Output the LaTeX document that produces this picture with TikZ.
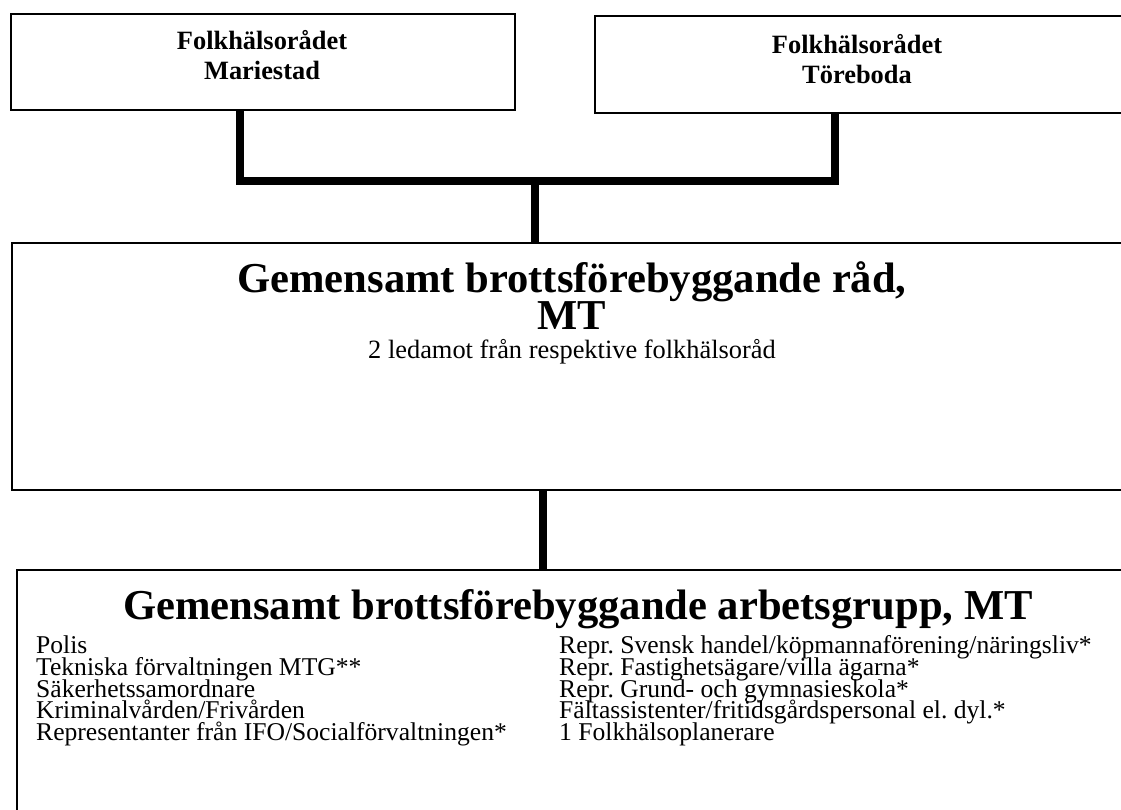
\documentclass[tikz,border=0pt]{standalone}
\usepackage{fontspec}
\setmainfont{Liberation Serif}
\frenchspacing
\begin{document}
\begin{tikzpicture}[x=1pt,y=-1pt,
  box/.style={draw=black, line width=1.6pt, fill=white, anchor=north west, inner sep=0pt},
  conn/.style={line width=8pt, line join=miter},
  smallbold/.style={font=\fontsize{26.4}{30}\selectfont\bfseries, anchor=base, inner sep=0pt},
  bigtitle/.style={font=\fontsize{42.6}{48}\selectfont\bfseries, anchor=base, inner sep=0pt},
  bodyl/.style={font=\fontsize{25.6}{22}\selectfont, anchor=base west, inner sep=0pt, text height=16pt, text depth=4pt},
  subtext/.style={font=\fontsize{26.4}{22}\selectfont, anchor=base, inner sep=0pt}]
\useasboundingbox (0,0) rectangle (1121,810);
\clip (0,0) rectangle (1121,810);
% boxes
\node[box, minimum width=504pt, minimum height=96pt] (A) at (10,13) {};
\node[box, minimum width=540pt, minimum height=97pt] (B) at (594,15) {};
\node[box, minimum width=1124pt, minimum height=247pt] (C) at (11,242) {};
\node[box, minimum width=1124pt, minimum height=260pt] (D) at (16,569) {};
% texts
\node[smallbold] (a1) at (262,50) {Folkhälsorådet};
\node[smallbold] (a2) at (262,80) {Mariestad};
\node[smallbold] (b1) at (857,54) {Folkhälsorådet};
\node[smallbold] (b2) at (857,84) {Töreboda};
\node[bigtitle] (c1) at (572,292) {Gemensamt brottsförebyggande råd,};
\node[bigtitle] (c2) at (572,329) {MT};
\node[subtext] (c3) at (572,358) {2 ledamot från respektive folkhälsoråd};
\node[bigtitle] (d0) at (578,619) {Gemensamt brottsförebyggande arbetsgrupp, MT};
\node[bodyl] (l1) at (36,653) {Polis};
\node[bodyl] (l2) at (36,675) {Tekniska förvaltningen MTG**};
\node[bodyl] (l3) at (36,697) {Säkerhetssamordnare};
\node[bodyl] (l4) at (36,718) {Kriminalvården/Frivården};
\node[bodyl] (l5) at (36,740) {Representanter från IFO/Socialförvaltningen*};
\node[bodyl] (r1) at (559,653) {Repr. Svensk handel/köpmannaförening/näringsliv*};
\node[bodyl] (r2) at (559,675) {Repr. Fastighetsägare/villa ägarna*};
\node[bodyl] (r3) at (559,697) {Repr. Grund- och gymnasieskola*};
\node[bodyl] (r4) at (559,718) {Fältassistenter/fritidsgårdspersonal el. dyl.*};
\node[bodyl] (r5) at (559,740) {1 Folkhälsoplanerare};
% connectors
\coordinate (jl) at (240,181);
\coordinate (jr) at (835,181);
\coordinate (jm) at (535,181);
\coordinate (jd) at (543,500);
\draw[conn] (A.south -| jl) -- (jl) -- (jr) -- (B.south -| jr);
\draw[conn] (jm) -- (C.north -| jm);
\draw[conn] (C.south -| jd) -- (D.north -| jd);
\end{tikzpicture}
\end{document}
